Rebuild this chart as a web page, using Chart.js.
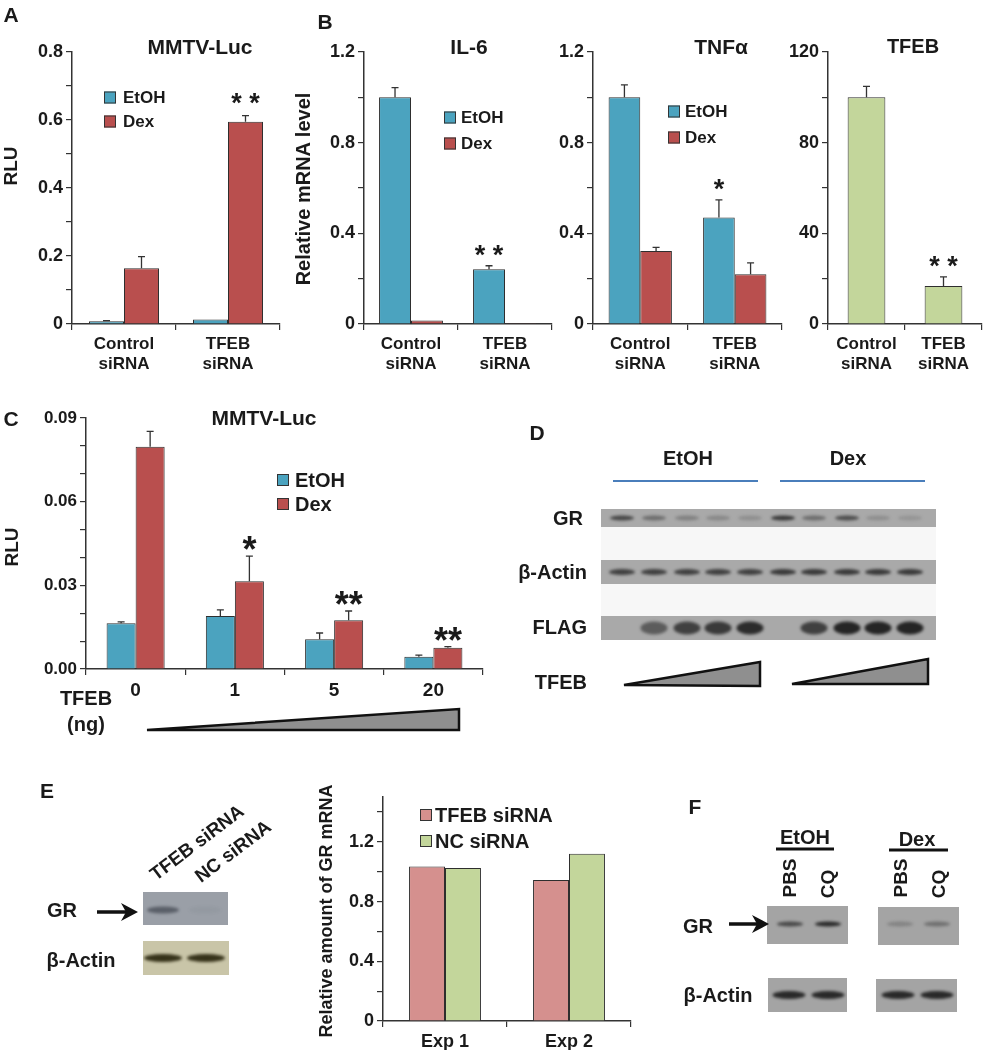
<!DOCTYPE html>
<html>
<head>
<meta charset="utf-8">
<script src="https://cdn.jsdelivr.net/npm/chart.js@4"></script>
<style>
  html, body { margin: 0; padding: 0; background: #fff; overflow: hidden; }
  #fig { position: relative; width: 983px; height: 1050px; overflow: hidden;
         font-family: "Liberation Sans", Arial, sans-serif; font-weight: bold; color: #1a1a1a; }
  #fig canvas { position: absolute; }
  #fig svg { position: absolute; left: 0; top: 0; }
  .t { position: absolute; white-space: nowrap; line-height: 1; }
  .lg { position: absolute; display: flex; align-items: center; white-space: nowrap;
        line-height: 1; transform: translateY(-50%); }
  .lg span { display: inline-block; box-sizing: border-box; border: 1px solid #333; }
</style>
</head>
<body>
<div id="fig"></div>
<script>
// ---- data ----
const siRNA = [["Control", "siRNA"], ["TFEB", "siRNA"]];
const treatments = ["EtOH", "Dex"];

// A: MMTV-Luc
const aEtoh = [0.008, 0.013];
const aEtohErr = [0.002, null];
const aDex = [0.164, 0.595];
const aDexErr = [0.034, 0.018];
const aDexStars = ["", "* *"];
const aTicks = [0, 0.1, 0.2, 0.3, 0.4, 0.5, 0.6, 0.7, 0.8];
const aTickLabels = ["0", "", "0.2", "", "0.4", "", "0.6", "", "0.8"];

// B: IL-6, TNFa, TFEB mRNA
const il6Etoh = [1.0, 0.242];
const il6EtohErr = [0.043, 0.015];
const il6EtohStars = ["", "* *"];
const il6Dex = [0.015, 0.003];
const tnfEtoh = [1.0, 0.47];
const tnfEtohErr = [0.055, 0.078];
const tnfEtohStars = ["", "*"];
const tnfDex = [0.322, 0.22];
const tnfDexErr = [0.016, 0.05];
const mrnaTicks = [0, 0.2, 0.4, 0.6, 0.8, 1.0, 1.2];
const mrnaTickLabels = ["0", "", "0.4", "", "0.8", "", "1.2"];
const tfebMrna = [100, 16.8];
const tfebMrnaErr = [4.8, 4.0];
const tfebStars = ["", "* *"];
const tfebTicks = [0, 20, 40, 60, 80, 100, 120];
const tfebTickLabels = ["0", "", "40", "", "80", "", "120"];

// C: MMTV-Luc vs TFEB dose
const doses = ["0", "1", "5", "20"];
const cEtoh = [0.0164, 0.019, 0.0107, 0.0044];
const cEtohErr = [0.0005, 0.0022, 0.0022, 0.0006];
const cDex = [0.0797, 0.0315, 0.0175, 0.0076];
const cDexErr = [0.0055, 0.0090, 0.0033, 0.0004];
const cDexStars = ["", "*", "**", "**"];
const cTicks = [0, 0.01, 0.02, 0.03, 0.04, 0.05, 0.06, 0.07, 0.08, 0.09];
const cTickLabels = ["0.00", "", "", "0.03", "", "", "0.06", "", "", "0.09"];

// E: GR mRNA
const exps = ["Exp 1", "Exp 2"];
const eSeries = ["TFEB siRNA", "NC siRNA"];
const eTfeb = [1.034, 0.945];
const eNc = [1.024, 1.12];
const eTicks = [0, 0.2, 0.4, 0.6, 0.8, 1.0, 1.2, 1.4];
const eTickLabels = ["0", "", "0.4", "", "0.8", "", "1.2", ""];

// blot band strengths (0..1)
const dGr = [0.75, 0.45, 0.3, 0.25, 0.2, 0.85, 0.45, 0.7, 0.2, 0.15];
const dActin = [0.8, 0.8, 0.8, 0.8, 0.8, 0.85, 0.85, 0.85, 0.85, 0.85];
const dFlag = [0, 0.55, 0.75, 0.8, 0.9, 0, 0.75, 0.95, 0.95, 0.95];
const eGr = [0.6, 0.05];
const eActin = [0.95, 0.95];
const fGrEtoh = [0.7, 0.95];
const fGrDex = [0.25, 0.4];
const fActin = [0.9, 0.9];

// ---- colours ----
const BLUE = "#4ba3bf";
const RED = "#b94f4e";
const GREEN = "#c3d69b";
const PINK = "#d5908e";
const EDGE = "#2e2e2e";

const fig = document.getElementById("fig");
const YW = 70, PT = 14, PR = 4, XH = 50;

Chart.defaults.font.family = "Liberation Sans";
Chart.defaults.font.weight = "bold";
Chart.defaults.color = "#1a1a1a";

// error bars and significance marks drawn from the bar scale
const errorBars = {
  id: "errorBars",
  afterDatasetsDraw(chart, args, opts) {
    const ctx = chart.ctx;
    const y = chart.scales.y;
    ctx.save();
    chart.data.datasets.forEach((ds, di) => {
      chart.getDatasetMeta(di).data.forEach((bar, i) => {
        const err = ds.errors ? ds.errors[i] : null;
        const top = ds.data[i] + (err || 0);
        if (err) {
          const yt = y.getPixelForValue(top);
          ctx.strokeStyle = "#333";
          ctx.lineWidth = 1.3;
          ctx.beginPath();
          ctx.moveTo(bar.x, bar.y);
          ctx.lineTo(bar.x, yt);
          ctx.moveTo(bar.x - 3.5, yt);
          ctx.lineTo(bar.x + 3.5, yt);
          ctx.stroke();
        }
        const star = ds.stars ? ds.stars[i] : "";
        if (star) {
          const cy = y.getPixelForValue(top) - opts.gap;
          ctx.fillStyle = "#1a1a1a";
          ctx.font = opts.weight + " " + opts.size + "px 'Liberation Sans'";
          ctx.textAlign = "center";
          ctx.textBaseline = "alphabetic";
          ctx.fillText(star, bar.x, cy + 0.558 * opts.size);
        }
      });
    });
    ctx.restore();
  },
};

function axisY(max, ticks, labels, size) {
  return {
    min: 0,
    max: max,
    afterBuildTicks: (s) => { s.ticks = ticks.map((v) => ({ value: v })); },
    afterFit: (s) => { s.width = YW; },
    border: { display: true, color: "#333", width: 1.5 },
    grid: { drawOnChartArea: false, drawTicks: true, tickLength: 6, color: "#333", lineWidth: 1.2 },
    ticks: { padding: 3, autoSkip: false, font: { size: size }, callback: (v, i) => labels[i] },
  };
}

function axisX(size) {
  return {
    offset: true,
    afterFit: (s) => { s.height = XH; },
    border: { display: true, color: "#333", width: 1.5 },
    grid: { offset: true, drawOnChartArea: false, drawTicks: true, tickLength: 6, color: "#333", lineWidth: 1.2 },
    ticks: { padding: 4, maxRotation: 0, autoSkip: false, font: { size: size } },
  };
}

function barChart(area, labels, datasets, yAxis, xSize, catPct, stars) {
  const c = document.createElement("canvas");
  const w = area.r - area.l + YW + PR;
  const h = area.b - area.t + PT + XH;
  c.width = w;
  c.height = h;
  c.style.left = area.l - YW + "px";
  c.style.top = area.t - PT + "px";
  fig.appendChild(c);
  datasets.forEach((d) => {
    d.borderColor = EDGE;
    d.borderWidth = 1;
    d.categoryPercentage = catPct;
    d.barPercentage = 1;
  });
  return new Chart(c, {
    type: "bar",
    data: { labels: labels, datasets: datasets },
    options: {
      responsive: false,
      devicePixelRatio: 1,
      animation: false,
      layout: { padding: { top: PT, right: PR, left: 0, bottom: 0 } },
      plugins: { legend: { display: false }, tooltip: { enabled: false }, errorBars: stars },
      scales: { x: axisX(xSize), y: yAxis },
    },
    plugins: [errorBars],
  });
}

// ---- blots (drawn before charts) ----
function blot(x, y, w, h, bg, band, lanes, levels, bw, bh, cy) {
  const c = document.createElement("canvas");
  c.width = w;
  c.height = h;
  c.style.left = x + "px";
  c.style.top = y + "px";
  fig.appendChild(c);
  const ctx = c.getContext("2d");
  ctx.fillStyle = bg;
  ctx.fillRect(0, 0, w, h);
  ctx.filter = "blur(1.6px)";
  ctx.fillStyle = band;
  lanes.forEach((lx, i) => {
    if (!levels[i]) return;
    ctx.globalAlpha = levels[i];
    ctx.beginPath();
    ctx.ellipse(lx - x, cy == null ? h / 2 : cy, bw / 2, bh / 2, 0, 0, Math.PI * 2);
    ctx.fill();
  });
}

const sheet = document.createElement("div");
sheet.style.cssText = "position:absolute;left:601px;top:509px;width:335px;height:131px;background:#f7f7f7";
fig.appendChild(sheet);
const dLanes = [622, 654, 687, 718, 750, 783, 814, 847, 878, 910];
blot(601, 509, 335, 18, "#a9a9a9", "#262626", dLanes, dGr, 24, 5);
blot(601, 560, 335, 24, "#a9a9a9", "#262626", dLanes, dActin, 26, 6);
blot(601, 616, 335, 24, "#a9a9a9", "#1e1e1e", dLanes, dFlag, 27, 13);
blot(143, 892, 85, 33, "#9a9fa7", "#30353f", [163, 205], eGr, 32, 7, 18);
blot(143, 941, 86, 34, "#c9c5a8", "#2e2a12", [163, 206], eActin, 38, 8, 17);
blot(767, 906, 81, 38, "#a4a4a4", "#222", [790, 828], fGrEtoh, 26, 5, 18);
blot(878, 907, 81, 38, "#a4a4a4", "#222", [900, 937], fGrDex, 26, 5, 17);
blot(768, 978, 79, 34, "#a4a4a4", "#1c1c1c", [789, 828], fActin, 33, 8, 17);
blot(876, 979, 81, 33, "#a4a4a4", "#1c1c1c", [898, 937], fActin, 33, 8, 16);

// ---- charts ----
const bigStar = { gap: 17, size: 27, weight: "bold" };

barChart({ l: 72, r: 280, t: 52, b: 324 }, siRNA, [
  { label: treatments[0], data: aEtoh, errors: aEtohErr, backgroundColor: BLUE },
  { label: treatments[1], data: aDex, errors: aDexErr, stars: aDexStars, backgroundColor: RED },
], axisY(0.8, aTicks, aTickLabels, 18), 17, 0.673, { gap: 19, size: 27, weight: "bold" });

barChart({ l: 364, r: 552, t: 52, b: 324 }, siRNA, [
  { label: treatments[0], data: il6Etoh, errors: il6EtohErr, stars: il6EtohStars, backgroundColor: BLUE },
  { label: treatments[1], data: il6Dex, backgroundColor: RED },
], axisY(1.2, mrnaTicks, mrnaTickLabels, 18), 17, 0.68, bigStar);

barChart({ l: 593, r: 782, t: 52, b: 324 }, siRNA, [
  { label: treatments[0], data: tnfEtoh, errors: tnfEtohErr, stars: tnfEtohStars, backgroundColor: BLUE },
  { label: treatments[1], data: tnfDex, errors: tnfDexErr, backgroundColor: RED },
], axisY(1.2, mrnaTicks, mrnaTickLabels, 18), 17, 0.67, bigStar);

barChart({ l: 828, r: 982, t: 52, b: 324 }, siRNA, [
  { label: "TFEB", data: tfebMrna, errors: tfebMrnaErr, stars: tfebStars, backgroundColor: GREEN },
], axisY(120, tfebTicks, tfebTickLabels, 18), 17, 0.49, bigStar);

barChart({ l: 86, r: 483, t: 418, b: 669 }, doses, [
  { label: treatments[0], data: cEtoh, errors: cEtohErr, backgroundColor: BLUE },
  { label: treatments[1], data: cDex, errors: cDexErr, stars: cDexStars, backgroundColor: RED },
], axisY(0.09, cTicks, cTickLabels, 17), 19, 0.585, { gap: 14, size: 36, weight: "bold" });

barChart({ l: 383, r: 631, t: 797, b: 1021 }, exps, [
  { label: eSeries[0], data: eTfeb, backgroundColor: PINK },
  { label: eSeries[1], data: eNc, backgroundColor: GREEN },
], axisY(1.5, eTicks, eTickLabels, 18), 18, 0.58, bigStar);

// ---- shapes ----
const NS = "http://www.w3.org/2000/svg";
const svg = document.createElementNS(NS, "svg");
svg.setAttribute("width", 983);
svg.setAttribute("height", 1050);
svg.innerHTML = `
  <polygon points="147,730 459,709 459,730" fill="#8f8f8f" stroke="#111" stroke-width="2.5" stroke-linejoin="miter"/>
  <polygon points="624,685 760,662 760,686" fill="#8f8f8f" stroke="#111" stroke-width="2.5"/>
  <polygon points="792,684 928,659 928,684" fill="#8f8f8f" stroke="#111" stroke-width="2.5"/>
  <line x1="613" y1="481" x2="758" y2="481" stroke="#4a7ebb" stroke-width="2"/>
  <line x1="780" y1="481" x2="925" y2="481" stroke="#4a7ebb" stroke-width="2"/>
  <line x1="97" y1="912" x2="128" y2="912" stroke="#111" stroke-width="3.5"/>
  <polygon points="121,903 138,912 121,921 126,912" fill="#111"/>
  <line x1="729" y1="924" x2="758" y2="924" stroke="#111" stroke-width="3.5"/>
  <polygon points="752,915 769,924 752,933 757,924" fill="#111"/>
  <line x1="776" y1="849" x2="834" y2="849" stroke="#111" stroke-width="3"/>
  <line x1="889" y1="850" x2="948" y2="850" stroke="#111" stroke-width="3"/>`;
fig.appendChild(svg);

// ---- text ----
function put(text, x, y, size, how, rot) {
  const d = document.createElement("div");
  d.className = "t";
  d.textContent = text;
  d.style.fontSize = size + "px";
  d.style.left = x + "px";
  d.style.top = y + "px";
  const tx = how === "r" ? "-100%" : how === "l" ? "0" : "-50%";
  d.style.transform = "translate(" + tx + ",-50%)" + (rot ? " rotate(" + rot + "deg)" : "");
  fig.appendChild(d);
  return d;
}

function legend(x, y, dy, names, colors, size, box, gap) {
  names.forEach((n, i) => {
    const row = document.createElement("div");
    row.className = "lg";
    row.style.left = x + "px";
    row.style.top = y + i * dy + "px";
    row.style.fontSize = size + "px";
    const sw = document.createElement("span");
    sw.style.width = box + "px";
    sw.style.height = box + "px";
    sw.style.background = colors[i];
    sw.style.marginRight = gap + "px";
    row.appendChild(sw);
    row.appendChild(document.createTextNode(n));
    fig.appendChild(row);
  });
}

// panel letters
put("A", 11, 14, 21);
put("B", 325, 21, 21);
put("C", 11, 418, 21);
put("D", 537, 432, 21);
put("E", 47, 790, 21);
put("F", 695, 806, 21);

// A
put("MMTV-Luc", 200, 46, 21);
put("RLU", 10, 166, 19, "c", -90);
legend(104, 97, 24, treatments, [BLUE, RED], 17, 12, 7);

// B
put("IL-6", 469, 46, 21);
put("TNFα", 721, 46, 21);
put("TFEB", 913, 46, 20);
put("Relative mRNA level", 303, 189, 20, "c", -90);
legend(444, 117, 26, treatments, [BLUE, RED], 17, 12, 5);
legend(668, 111, 26, treatments, [BLUE, RED], 17, 12, 5);

// C
put("MMTV-Luc", 264, 417, 21);
put("RLU", 11, 547, 19, "c", -90);
legend(277, 480, 24, treatments, [BLUE, RED], 20, 12, 6);
put("TFEB", 86, 698, 20);
put("(ng)", 86, 724, 20);

// D
put("EtOH", 688, 458, 20);
put("Dex", 848, 458, 20);
put("GR", 583, 518, 20, "r");
put("β-Actin", 587, 572, 20, "r");
put("FLAG", 587, 627, 20, "r");
put("TFEB", 587, 682, 20, "r");

// E
put("GR", 62, 910, 20);
put("β-Actin", 81, 960, 20);
const lab1 = put("TFEB siRNA", 152, 876, 19, "l");
lab1.style.transformOrigin = "0 50%";
lab1.style.transform = "translate(0,-50%) rotate(-37deg)";
const lab2 = put("NC siRNA", 197, 878, 19, "l");
lab2.style.transformOrigin = "0 50%";
lab2.style.transform = "translate(0,-50%) rotate(-37deg)";
put("Relative amount of GR mRNA", 326, 911, 18, "c", -90);
legend(420, 815, 26, eSeries, [PINK, GREEN], 20, 12, 3);

// F
put("EtOH", 805, 837, 20);
put("Dex", 917, 839, 20);
put("PBS", 789, 878, 19, "c", -90);
put("CQ", 827, 884, 19, "c", -90);
put("PBS", 900, 878, 19, "c", -90);
put("CQ", 938, 884, 19, "c", -90);
put("GR", 698, 926, 20);
put("β-Actin", 718, 995, 20);
</script>
</body>
</html>
